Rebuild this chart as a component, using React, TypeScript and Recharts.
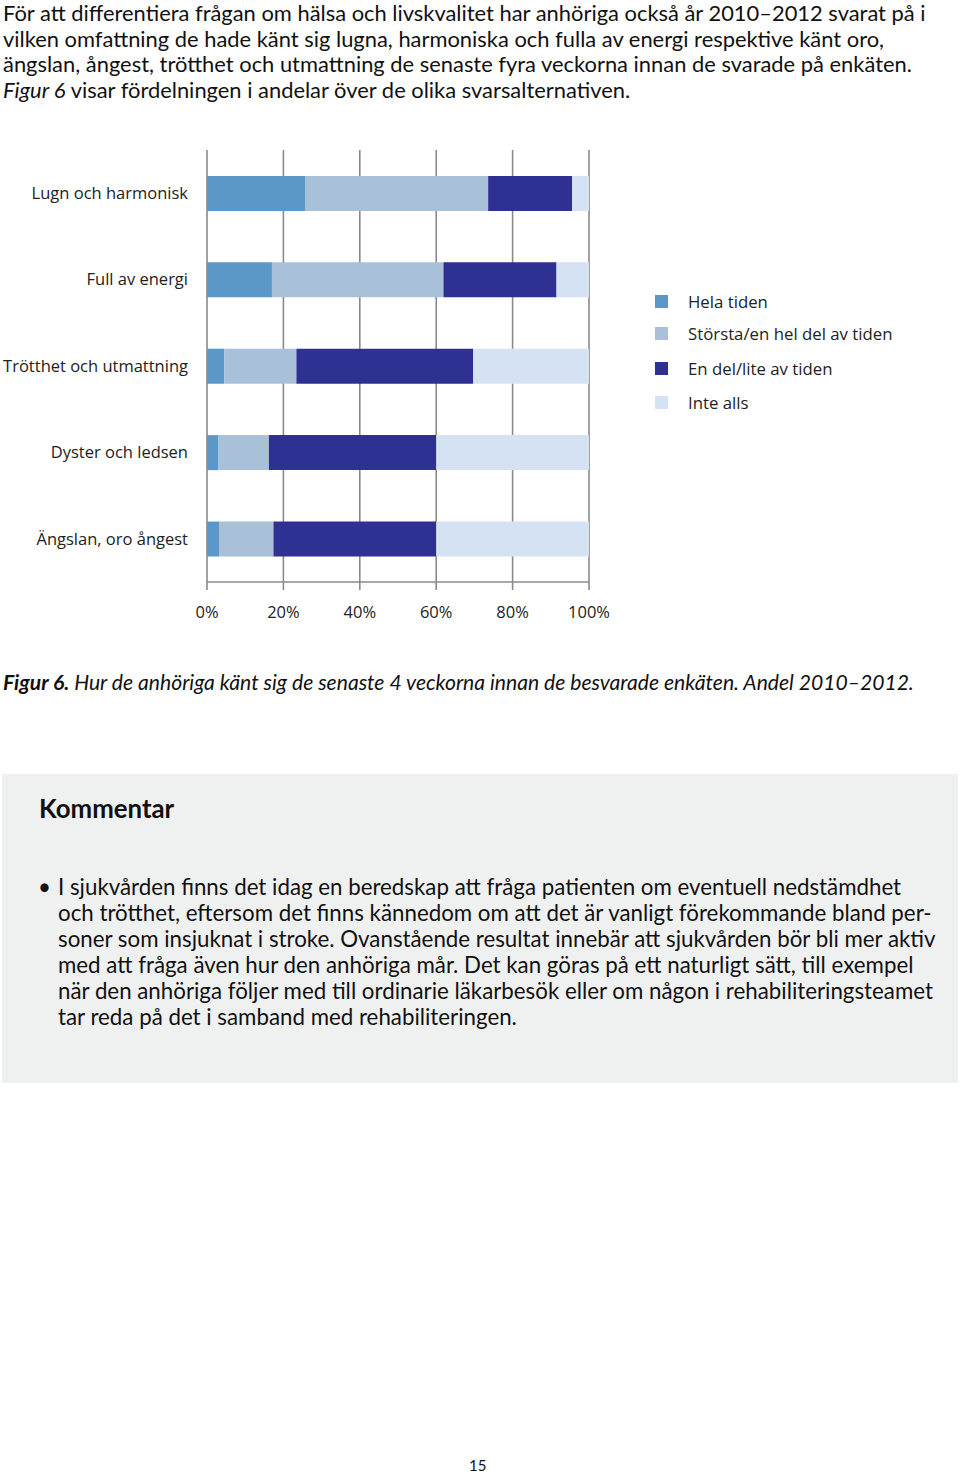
import React from 'react';
import { BarChart, Bar, XAxis, YAxis, CartesianGrid } from 'recharts';

// categories, top to bottom
const feelings = [
  'Lugn och harmonisk',
  'Full av energi',
  'Trötthet och utmattning',
  'Dyster och ledsen',
  'Ängslan, oro ångest',
];

// share (%) per answer, same order as feelings
const helaTiden = [25.8, 17.0, 4.5, 2.9, 3.3];
const storstaDel = [47.8, 44.9, 18.9, 13.3, 14.1];
const enDelLite = [22.0, 29.6, 46.3, 43.8, 42.6];
const inteAlls = [4.4, 8.5, 30.3, 40.0, 40.0];

const seriesNames = ['Hela tiden', 'Största/en hel del av tiden', 'En del/lite av tiden', 'Inte alls'];
const seriesColors = ['#5b97c9', '#a9c0d9', '#2e3192', '#d4e2f4'];
const xTicks = [0, 20, 40, 60, 80, 100];
const boundaryTicks = [0, 1, 2, 3, 4, 5];

const introLines = [
  'För att differentiera frågan om hälsa och livskvalitet har anhöriga också år 2010–2012 svarat på i',
  'vilken omfattning de hade känt sig lugna, harmoniska och fulla av energi respektive känt oro,',
  'ängslan, ångest, trötthet och utmattning de senaste fyra veckorna innan de svarade på enkäten.',
];

const commentLines = [
  'I sjukvården finns det idag en beredskap att fråga patienten om eventuell nedstämdhet',
  'och trötthet, eftersom det finns kännedom om att det är vanligt förekommande bland per-',
  'soner som insjuknat i stroke. Ovanstående resultat innebär att sjukvården bör bli mer aktiv',
  'med att fråga även hur den anhöriga mår. Det kan göras på ett naturligt sätt, till exempel',
  'när den anhöriga följer med till ordinarie läkarbesök eller om någon i rehabiliteringsteamet',
  'tar reda på det i samband med rehabiliteringen.',
];

const data = feelings.map((name, i) => ({
  name,
  s0: helaTiden[i],
  s1: storstaDel[i],
  s2: enDelLite[i],
  s3: inteAlls[i],
}));

const bodyFont = 'Lato, "Open Sans", sans-serif';
const chartFont = '"Open Sans", "Noto Sans", sans-serif';
const gray = '#8a8a8a';

export default function App() {
  return (
    <div style={{ position: 'absolute', left: 0, top: 0, width: 960, height: 1474, background: '#fff', color: '#111', fontFamily: bodyFont }}>
      <div style={{ position: 'absolute', left: 3, top: 0, fontSize: 21.9, lineHeight: '25.7px', whiteSpace: 'nowrap' }}>
        {introLines.map(l => <div key={l}>{l}</div>)}
        <div><i>Figur 6</i> visar fördelningen i andelar över de olika svarsalternativen.</div>
      </div>

      <div style={{ position: 'absolute', left: 0, top: 140 }}>
        <BarChart
          width={620}
          height={500}
          data={data}
          layout="vertical"
          barCategoryGap="30%"
          margin={{ top: 10, right: 31, bottom: 18, left: 0 }}
        >
          <CartesianGrid horizontal={false} stroke={gray} strokeWidth={1.6} strokeDasharray="" />
          <XAxis
            type="number"
            domain={[0, 100]}
            ticks={xTicks}
            tickFormatter={(v: number) => `${v}%`}
            height={40}
            stroke={gray}
            strokeWidth={1.6}
            tickSize={8}
            tickMargin={16}
            tick={{ fill: '#222', fontSize: 16.5, fontFamily: chartFont }}
            interval={0}
          />
          <YAxis
            yAxisId="bounds"
            type="number"
            domain={[0, 5]}
            ticks={boundaryTicks}
            width={0}
            stroke={gray}
            strokeWidth={1.6}
            tickSize={8}
            tickFormatter={() => ''}
            interval={0}
          />
          <YAxis
            type="category"
            dataKey="name"
            width={207}
            axisLine={false}
            tickLine={false}
            tickSize={0}
            tickMargin={19}
            tick={{ fill: '#222', fontSize: 16.5, fontFamily: chartFont }}
            interval={0}
          />
          {seriesNames.map((n, i) => (
            <Bar key={n} dataKey={`s${i}`} name={n} stackId="a" fill={seriesColors[i]} isAnimationActive={false} />
          ))}
        </BarChart>
      </div>

      <div style={{ position: 'absolute', left: 655, top: 292, fontFamily: chartFont, fontSize: 16.8, color: '#222' }}>
        {seriesNames.map((n, i) => (
          <div key={n} style={{ position: 'absolute', top: [0, 32, 67, 101][i], left: 0, whiteSpace: 'nowrap', display: 'flex', alignItems: 'center', height: 18 }}>
            <span style={{ display: 'inline-block', width: 13, height: 13, background: seriesColors[i], marginRight: 20 }} />
            <span>{n}</span>
          </div>
        ))}
      </div>

      <div style={{ position: 'absolute', left: 3, top: 669, fontSize: 21.1, fontStyle: 'italic', whiteSpace: 'nowrap' }}>
        <b>Figur 6.</b> Hur de anhöriga känt sig de senaste 4 veckorna innan de besvarade enkäten. Andel 2010–2012.
      </div>

      <div style={{ position: 'absolute', left: 2, top: 774, width: 956, height: 309, background: '#eff0f0' }}>
        <div style={{ position: 'absolute', left: 37, top: 19, fontSize: 25.8, fontWeight: 700 }}>Kommentar</div>
        <div style={{ position: 'absolute', left: 36, top: 100, fontSize: 22.3, lineHeight: '26px', whiteSpace: 'nowrap' }}>
          <span style={{ position: 'absolute', left: 0, top: 0 }}>•</span>
          <div style={{ marginLeft: 20 }}>
            {commentLines.map(l => <div key={l}>{l}</div>)}
          </div>
        </div>
      </div>

      <div style={{ position: 'absolute', left: 469, top: 1456, fontSize: 15 }}>15</div>
    </div>
  );
}
